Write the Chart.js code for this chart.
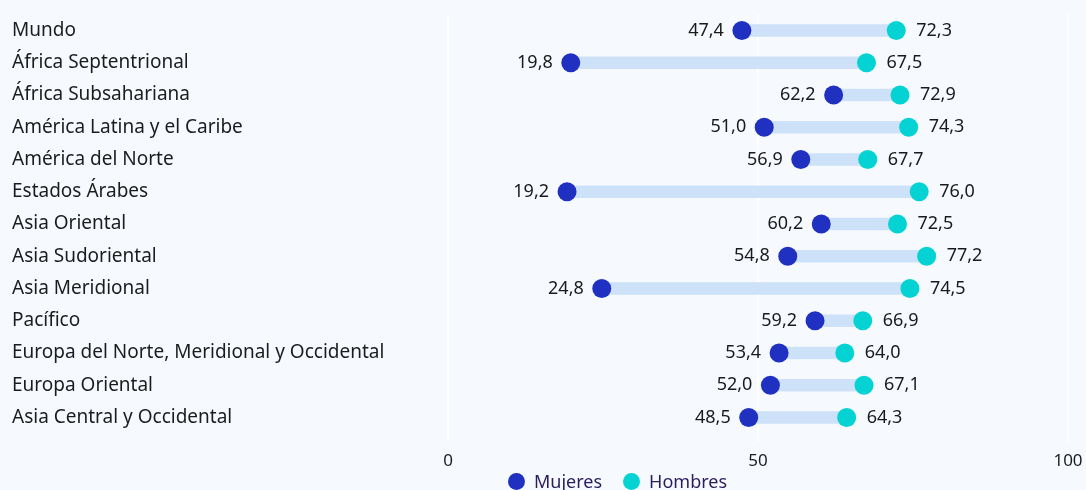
<!DOCTYPE html>
<html lang="es">
<head>
<meta charset="utf-8">
<script src="https://cdn.jsdelivr.net/npm/chart.js@4"></script>
<style>
  html, body { margin: 0; padding: 0; background: #f6faff; }
  #wrap { position: relative; width: 1086px; height: 490px; }
  #legend {
    position: absolute; left: 508px; top: 470px; height: 22px;
    display: flex; align-items: center;
    font-family: "Noto Sans", sans-serif; font-size: 18px; color: #2b1c5e;
  }
  #legend span.dot {
    display: inline-block; width: 17px; height: 17px; border-radius: 50%;
    margin-right: 9px;
  }
  #legend .item { display: flex; align-items: center; margin-right: 21px; }
</style>
</head>
<body>
<div id="wrap">
  <canvas id="chart" width="1086" height="490"></canvas>
  <div id="legend">
    <div class="item"><span class="dot" style="background:#2030c0"></span>Mujeres</div>
    <div class="item"><span class="dot" style="background:#05d3d3"></span>Hombres</div>
  </div>
</div>
<script>
const regions = [
    'Mundo',
    'África Septentrional',
    'África Subsahariana',
    'América Latina y el Caribe',
    'América del Norte',
    'Estados Árabes',
    'Asia Oriental',
    'Asia Sudoriental',
    'Asia Meridional',
    'Pacífico',
    'Europa del Norte, Meridional y Occidental',
    'Europa Oriental',
    'Asia Central y Occidental'
];
const mujeres = [47.4, 19.8, 62.2, 51.0, 56.9, 19.2, 60.2, 54.8, 24.8, 59.2, 53.4, 52.0, 48.5];
const hombres = [72.3, 67.5, 72.9, 74.3, 67.7, 76.0, 72.5, 77.2, 74.5, 66.9, 64.0, 67.1, 64.3];
const xTicks = [0, 50, 100];

const fmt = v => v.toFixed(1).replace('.', ',');

// value labels next to each dot
const valueLabels = {
    id: 'valueLabels',
    afterDatasetsDraw(chart) {
        const ctx = chart.ctx;
        ctx.save();
        ctx.font = '18px "Noto Sans", sans-serif';
        ctx.fillStyle = '#1a1a1a';
        ctx.textBaseline = 'middle';
        chart.getDatasetMeta(1).data.forEach((pt, i) => {
            ctx.textAlign = 'right';
            ctx.fillText(fmt(mujeres[i]), pt.x - 18, pt.y);
        });
        chart.getDatasetMeta(2).data.forEach((pt, i) => {
            ctx.textAlign = 'left';
            ctx.fillText(fmt(hombres[i]), pt.x + 20, pt.y);
        });
        ctx.restore();
    }
};

const bgPlugin = {
    id: 'bg',
    beforeDraw(chart) {
        const ctx = chart.ctx;
        ctx.save();
        ctx.fillStyle = '#f6faff';
        ctx.fillRect(0, 0, chart.width, chart.height);
        ctx.restore();
    }
};

new Chart(document.getElementById('chart'), {
    data: {
        labels: regions,
        datasets: [
            {
                type: 'bar',
                label: 'rango',
                data: regions.map((r, i) => [mujeres[i], hombres[i]]),
                backgroundColor: '#cde1f8',
                barThickness: 12,
                order: 3
            },
            {
                type: 'line',
                label: 'Mujeres',
                data: mujeres,
                showLine: false,
                pointRadius: 9.5,
                pointBackgroundColor: '#2030c0',
                pointBorderWidth: 0,
                order: 1
            },
            {
                type: 'line',
                label: 'Hombres',
                data: hombres,
                showLine: false,
                pointRadius: 9.5,
                pointBackgroundColor: '#05d3d3',
                pointBorderWidth: 0,
                order: 2
            }
        ]
    },
    options: {
        indexAxis: 'y',
        responsive: false,
        animation: false,
        layout: { padding: { left: 12, right: 18, top: 4, bottom: 10 } },
        plugins: {
            legend: { display: false },
            tooltip: { enabled: false }
        },
        scales: {
            y: {
                type: 'category',
                grid: { display: false },
                border: { display: false },
                ticks: {
                    crossAlign: 'far',
                    color: '#1c1c1c',
                    font: { family: 'Noto Sans', size: 19 }
                },
                afterFit(scale) { scale.width = 436; }
            },
            x: {
                type: 'linear',
                min: 0,
                max: 100,
                afterBuildTicks(scale) {
                    scale.ticks = xTicks.map(v => ({ value: v }));
                },
                afterFit(scale) {
                    scale.paddingLeft = 0;
                    scale.paddingRight = 0;
                },
                grid: { color: '#ffffff', lineWidth: 2, tickLength: 8 },
                border: { display: false },
                ticks: {
                    padding: 9,
                    maxRotation: 0,
                    color: '#1c1c1c',
                    font: { family: 'Noto Sans', size: 17 }
                }
            }
        }
    },
    plugins: [bgPlugin, valueLabels]
});
</script>
</body>
</html>
